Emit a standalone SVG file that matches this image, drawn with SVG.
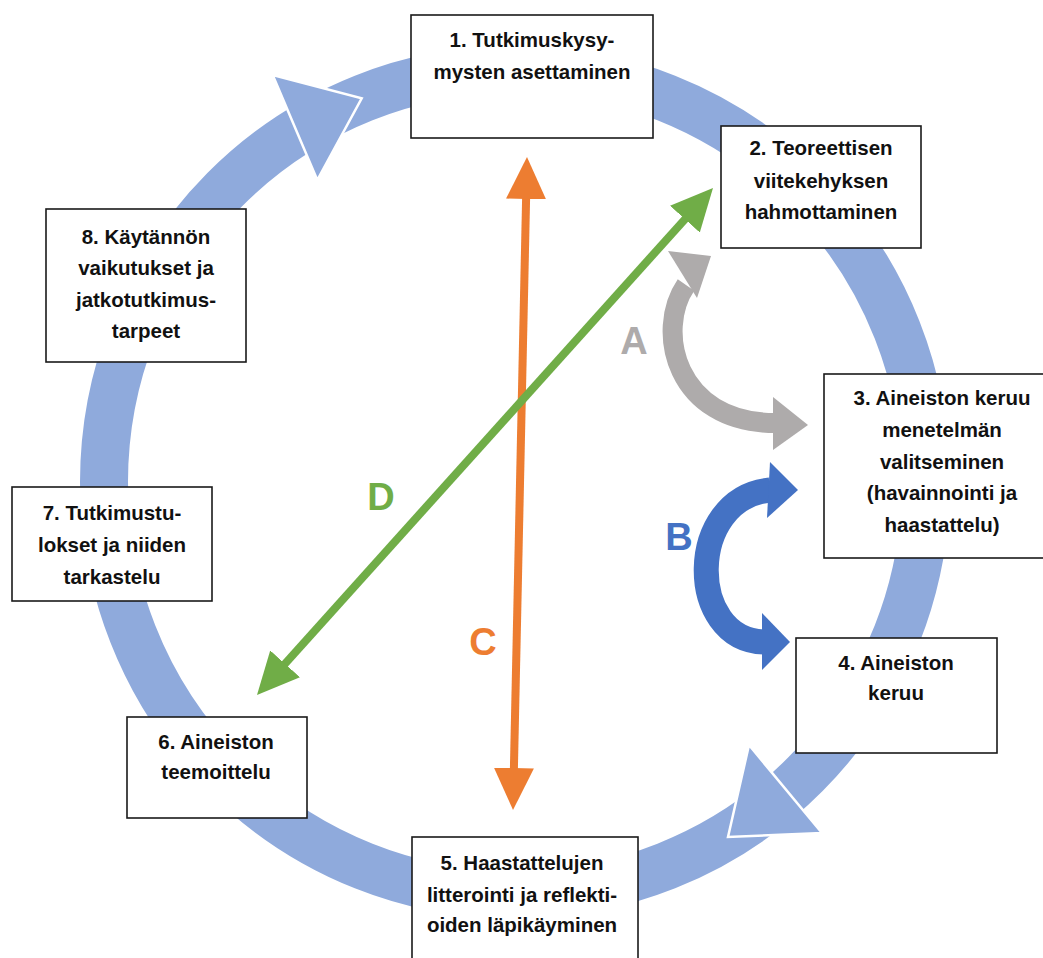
<svg xmlns="http://www.w3.org/2000/svg" width="1043" height="958" viewBox="0 0 1043 958">
<style>
.box rect{fill:#fff;stroke:#1a1a1a;stroke-width:1.6}
.box text{font-family:"Liberation Sans",Arial,sans-serif;font-weight:bold;font-size:20.5px;fill:#111;text-anchor:middle}
.lbl{font-family:"Liberation Sans",Arial,sans-serif;font-weight:bold;font-size:38px;text-anchor:middle}
.ring{fill:none;stroke:#8FAADC;stroke-width:48}
.tri{fill:#8FAADC;stroke:#fff;stroke-width:2.5;stroke-linejoin:miter}
</style>
<defs>
<marker id="hO" markerUnits="userSpaceOnUse" markerWidth="44" markerHeight="42" viewBox="0 0 44 42" refX="10" refY="20" orient="auto-start-reverse"><path d="M0,0 L42,20 L0,40 z" fill="#ED7D31"/></marker>
<marker id="hG" markerUnits="userSpaceOnUse" markerWidth="44" markerHeight="42" viewBox="0 0 44 42" refX="10" refY="20" orient="auto-start-reverse"><path d="M0,0 L42,20 L0,40 z" fill="#70AD47"/></marker>
</defs>
<rect width="1043" height="958" fill="#fff"/>
<g id="cycle">
<ellipse class="ring" cx="515" cy="482" rx="411" ry="413"/>
<polygon class="tri" points="272.7,75 361.7,98.3 317.3,180"/>
<polygon class="tri" points="749,745 822,833 728,837"/>
</g>
<g id="n1" class="box"><rect x="411" y="15" width="242" height="123"/><text x="532" y="47">1. Tutkimuskysy-</text><text x="532" y="79">mysten asettaminen</text></g>
<g id="n2" class="box"><rect x="721" y="126" width="200" height="122"/><text x="821" y="155">2. Teoreettisen</text><text x="821" y="188">viitekehyksen</text><text x="821" y="219">hahmottaminen</text></g>
<g id="n3" class="box"><rect x="824" y="374" width="222" height="184"/><text x="942" y="405">3. Aineiston keruu</text><text x="942" y="437">menetelmän</text><text x="942" y="469">valitseminen</text><text x="942" y="500">(havainnointi ja</text><text x="942" y="532">haastattelu)</text></g>
<g id="n4" class="box"><rect x="796" y="638" width="201" height="115"/><text x="896" y="670">4. Aineiston</text><text x="896" y="700">keruu</text></g>
<g id="n5" class="box"><rect x="412" y="837" width="226" height="130"/><text x="522" y="870">5. Haastattelujen</text><text x="522" y="902">litterointi ja reflekti-</text><text x="522" y="932">oiden läpikäyminen</text></g>
<g id="n6" class="box"><rect x="127" y="717" width="180" height="101"/><text x="216" y="749">6. Aineiston</text><text x="216" y="779">teemoittelu</text></g>
<g id="n7" class="box"><rect x="12" y="487" width="200" height="114"/><text x="112" y="520">7. Tutkimustu-</text><text x="112" y="552">lokset ja niiden</text><text x="112" y="584">tarkastelu</text></g>
<g id="n8" class="box"><rect x="46" y="209" width="200" height="153"/><text x="146" y="244">8. Käytännön</text><text x="146" y="275">vaikutukset ja</text><text x="146" y="307">jatkotutkimus-</text><text x="146" y="338">tarpeet</text></g>
<g id="connectors">
<line x1="526.3" y1="189" x2="513.7" y2="778" stroke="#ED7D31" stroke-width="8" marker-start="url(#hO)" marker-end="url(#hO)"/>
<line x1="691.6" y1="211.8" x2="278.4" y2="671.2" stroke="#70AD47" stroke-width="8" marker-start="url(#hG)" marker-end="url(#hG)"/>
<path d="M686,285 C655,330 675,423 775,423" fill="none" stroke="#AEABAB" stroke-width="20"/>
<polygon points="668,251 711,256 697,298" fill="#AEABAB"/>
<polygon points="773,397 808,425 773,450" fill="#AEABAB"/>
<path d="M770,490 C686,498 686,640 764,642" fill="none" stroke="#4472C4" stroke-width="25"/>
<polygon points="770,462 798,490 767,518" fill="#4472C4"/>
<polygon points="762,613 790,642 762,670" fill="#4472C4"/>
<text class="lbl" x="634" y="354" fill="#AEABAB">A</text>
<text class="lbl" x="679" y="550" fill="#4472C4">B</text>
<text class="lbl" x="483" y="655" fill="#ED7D31">C</text>
<text class="lbl" x="381" y="510" fill="#70AD47">D</text>
</g>
</svg>
